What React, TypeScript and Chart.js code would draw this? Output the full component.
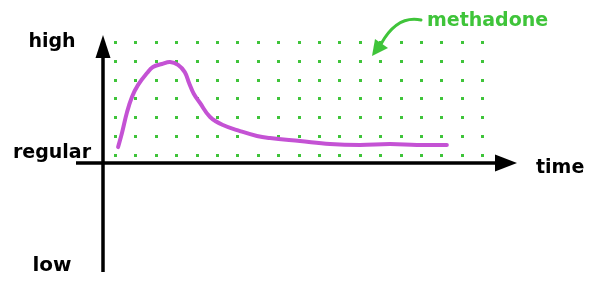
import React, { useEffect, useRef } from "react";
import { Chart, registerables } from "chart.js";

Chart.register(...registerables);

// Curve: time (grid columns) vs level (grid rows; 0 = regular)
const TIME = [0.15, 0.34, 0.59, 0.83, 1.13, 1.57, 1.86, 2.3, 2.7, 3.09, 3.42, 3.63, 3.86, 4.17, 4.66, 5.29, 6.13, 6.96, 7.6, 9.07, 10.54, 12.01, 13.48, 14.8, 16.27];
const LEVEL = [0.42, 1.17, 2.28, 3.08, 3.72, 4.35, 4.67, 4.83, 4.94, 4.78, 4.4, 3.82, 3.25, 2.76, 2.02, 1.59, 1.27, 1.01, 0.9, 0.74, 0.58, 0.53, 0.58, 0.53, 0.53];

// Dotted grid
const GRID_COLUMNS = [0, 1, 2, 3, 4, 5, 6, 7, 8, 9, 10, 11, 12, 13, 14, 15, 16, 17, 18];
const GRID_ROWS = [0, 1, 2, 3, 4, 5, 6];

// Axis labels
const Y_LABELS = ["high", "regular", "low"];
const Y_LABEL_VALUES = [6, 0, -6];
const X_LABEL = "time";
const SERIES_LABEL = "methadone";

const X_MIN = -0.59;
const X_MAX = 19.71;
const Y_MIN = -6.21;
const Y_MAX = 6.37;
const H_AXIS_AT = -0.42;

const GREEN = "#3fc43a";
const MAGENTA = "#c452d4";
const FONT = "'DejaVu Sans', sans-serif";

const dotsPlugin = {
  id: "dots",
  beforeDatasetsDraw(chart: any) {
    const { ctx, scales } = chart;
    const xs = scales.x;
    const ys = scales.y;
    ctx.save();
    ctx.fillStyle = GREEN;
    GRID_COLUMNS.forEach((gx) => {
      GRID_ROWS.forEach((gy) => {
        const px = Math.round(xs.getPixelForValue(gx));
        const py = Math.round(ys.getPixelForValue(gy));
        ctx.fillRect(px - 1, py - 1, 3, 3);
      });
    });
    ctx.restore();
  },
};

const axesPlugin = {
  id: "axesArrows",
  afterDraw(chart: any) {
    const { ctx, scales, chartArea } = chart;
    const xs = scales.x;
    const ys = scales.y;
    const ax = xs.getPixelForValue(X_MIN);
    const ay = ys.getPixelForValue(H_AXIS_AT);
    ctx.save();
    ctx.strokeStyle = "#000";
    ctx.fillStyle = "#000";
    ctx.lineWidth = 3.5;
    // vertical axis
    ctx.beginPath();
    ctx.moveTo(ax, chartArea.bottom);
    ctx.lineTo(ax, chartArea.top + 15);
    ctx.stroke();
    ctx.beginPath();
    ctx.moveTo(ax, chartArea.top);
    ctx.lineTo(ax - 7.5, chartArea.top + 23);
    ctx.lineTo(ax + 7.5, chartArea.top + 23);
    ctx.closePath();
    ctx.fill();
    // horizontal axis
    ctx.beginPath();
    ctx.moveTo(ax - 27, ay);
    ctx.lineTo(chartArea.right - 15, ay);
    ctx.stroke();
    ctx.beginPath();
    ctx.moveTo(chartArea.right, ay);
    ctx.lineTo(chartArea.right - 22, ay - 8.5);
    ctx.lineTo(chartArea.right - 22, ay + 8.5);
    ctx.closePath();
    ctx.fill();

    // y labels
    ctx.textAlign = "center";
    ctx.textBaseline = "alphabetic";
    Y_LABELS.forEach((lab, i) => {
      const py = ys.getPixelForValue(Y_LABEL_VALUES[i]);
      ctx.font = `bold ${i === 2 ? 20 : 19}px ${FONT}`;
      ctx.fillText(lab, 52, py + (i === 0 ? 5 : 3));
    });
    // x label
    ctx.textAlign = "left";
    ctx.font = `bold 19px ${FONT}`;
    ctx.fillText(X_LABEL, chartArea.right + 19, ay + 10);

    // series annotation
    ctx.fillStyle = GREEN;
    ctx.strokeStyle = GREEN;
    ctx.font = `bold 19px ${FONT}`;
    ctx.fillText(SERIES_LABEL, 427, 26);
    ctx.lineWidth = 3;
    ctx.lineCap = "round";
    ctx.beginPath();
    ctx.moveTo(421, 20);
    ctx.quadraticCurveTo(397, 15, 381, 44);
    ctx.stroke();
    ctx.beginPath();
    ctx.moveTo(372, 56);
    ctx.lineTo(375, 39);
    ctx.lineTo(388, 48);
    ctx.closePath();
    ctx.fill();
    ctx.restore();
  },
};

export default function App() {
  const ref = useRef<HTMLCanvasElement | null>(null);
  useEffect(() => {
    if (!ref.current) return;
    const chart = new Chart(ref.current, {
      type: "scatter",
      data: {
        datasets: [
          {
            label: SERIES_LABEL,
            data: TIME.map((t, i) => ({ x: t, y: LEVEL[i] })),
            showLine: true,
            borderColor: MAGENTA,
            borderWidth: 4,
            pointRadius: 0,
            tension: 0.4,
            borderCapStyle: "round",
            borderJoinStyle: "round",
          } as any,
        ],
      },
      options: {
        animation: false,
        responsive: false,
        devicePixelRatio: 1,
        layout: { padding: { left: 103, right: 92, top: 35, bottom: 12 } },
        plugins: { legend: { display: false }, tooltip: { enabled: false } },
        scales: {
          x: { type: "linear", display: false, min: X_MIN, max: X_MAX },
          y: { type: "linear", display: false, min: Y_MIN, max: Y_MAX },
        },
      },
      plugins: [dotsPlugin, axesPlugin],
    });
    return () => chart.destroy();
  }, []);
  return (
    <div style={{ position: "absolute", left: 0, top: 0, width: 609, height: 284, background: "#fff" }}>
      <canvas ref={ref} width={609} height={284} style={{ display: "block" }} />
    </div>
  );
}
